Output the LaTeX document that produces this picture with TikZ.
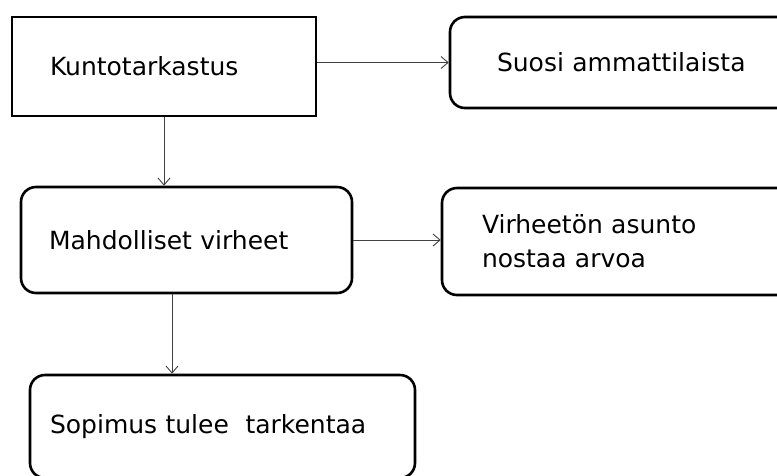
\documentclass[tikz,border=0pt]{standalone}
\usepackage{fontspec}
\setmainfont{DejaVu Sans}
\usetikzlibrary{positioning, arrows.meta}

\tikzset{
  box/.style = {draw, line width=2.6pt, align=left, anchor=center,
                font=\fontsize{25}{34}\selectfont, inner ysep=0pt},
  roundbox/.style = {box, rounded corners=15pt},
  link/.style = {draw=black!75, line width=0.9pt,
                 -{Straight Barb[length=7pt, width=12pt]}}
}

\begin{document}
\begin{tikzpicture}[x=1pt, y=1pt]
   \useasboundingbox (0,0) rectangle (777,-475);
   \node[box, minimum width=304pt, minimum height=99pt, inner xsep=38pt,
         text width=228pt] (kunto) at (164,-66.5) {Kuntotarkastus};
   \node[roundbox, minimum width=345pt, minimum height=91pt, inner xsep=47pt,
         text width=251pt] (suosi) at (622.5,-62.5) {Suosi ammattilaista};
   \node[roundbox, minimum width=331pt, minimum height=106pt, inner xsep=28pt,
         text width=275pt] (virheet) at (186.5,-240) {Mahdolliset virheet};
   \node[roundbox, minimum width=353pt, minimum height=107pt, inner xsep=40pt,
         text width=273pt] (asunto) at (618.5,-241.5) {Virheetön asunto\\nostaa arvoa};
   \node[roundbox, minimum width=385pt, minimum height=103pt, inner xsep=20pt,
         text width=345pt] (sopimus) at (222.5,-426.5) {Sopimus tulee~ tarkentaa};
   % connectors
   \draw[link] (kunto.east |- suosi.west) -- (suosi.west);
   \draw[link] (kunto.south) -- (kunto.south |- virheet.north);
   \draw[link] (virheet.east) -- (virheet.east -| asunto.west);
   \draw[link] ([xshift=-14.5pt]virheet.south)
      -- ([xshift=-14.5pt]virheet.south |- sopimus.north);
\end{tikzpicture}
\end{document}
